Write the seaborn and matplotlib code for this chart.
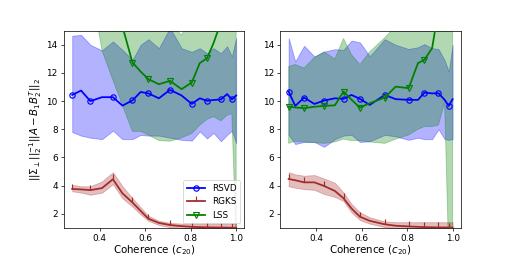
import numpy as np
import pandas as pd
import matplotlib
matplotlib.use("Agg")
import matplotlib.pyplot as plt
import seaborn as sns

# ---------------- data ----------------
coh_left = [0.279, 0.318, 0.359, 0.41, 0.458, 0.50, 0.544, 0.58, 0.614, 0.66,
            0.709, 0.76, 0.805, 0.84, 0.872, 0.90, 0.933, 0.96, 0.981, 1.0]
coh_right = [0.28, 0.309, 0.348, 0.393, 0.436, 0.483, 0.521, 0.556, 0.593, 0.636,
             0.702, 0.75, 0.807, 0.848, 0.876, 0.91, 0.938, 0.965, 0.983, 1.0]

# left panel
rsvd_L = [10.44, 10.75, 10.0, 10.28, 10.28, 9.68, 10.05, 10.65, 10.55, 10.2,
          10.8, 10.4, 9.8, 10.2, 10.02, 10.08, 10.12, 10.5, 10.12, 10.4]
rsvd_L_lo = [7.8, 7.55, 7.4, 7.3, 7.9, 7.3, 7.3, 7.6, 7.55, 7.55,
             7.4, 7.25, 7.2, 7.85, 7.35, 7.75, 7.15, 7.6, 7.9, 7.0]
rsvd_L_hi = [14.64, 14.71, 14.0, 13.6, 14.24, 13.64, 12.93, 14.0, 14.4, 13.76,
             15.2, 13.76, 13.5, 13.76, 13.4, 13.76, 13.4, 13.9, 13.17, 14.48]
rgks_L = [3.76, 3.73, 3.68, 3.82, 4.45, 3.45, 2.8, 2.2, 1.65, 1.35,
          1.2, 1.12, 1.07, 1.05, 1.04, 1.03, 1.02, 1.02, 1.01, 1.01]
rgks_L_lo = [3.6, 3.5, 3.35, 3.5, 4.1, 3.1, 2.5, 1.95, 1.5, 1.2,
             1.05, 0.98, 0.95, 0.95, 0.95, 0.95, 0.95, 0.95, 0.95, 0.95]
rgks_L_hi = [4.05, 3.95, 3.95, 4.3, 4.95, 3.95, 3.1, 2.45, 1.85, 1.5,
             1.35, 1.3, 1.3, 1.3, 1.3, 1.3, 1.3, 1.3, 1.3, 1.3]
lss_L = [30.0, 28.0, 26.0, 22.0, 18.0, 15.3, 12.74, 12.1, 11.56, 11.2,
         11.44, 10.85, 11.32, 12.7, 13.05, 14.1, 15.6, 17.0, 20.0, 25.0]
lss_L_lo = [20.0, 19.0, 18.3, 13.6, 11.5, 9.7, 7.85, 7.85, 7.6, 7.2,
            7.15, 7.4, 7.7, 8.3, 8.7, 8.9, 8.6, 9.0, 9.1, 0.0]
lss_L_hi = [30.0, 28.0, 26.0, 24.0, 22.0, 20.0, 18.0, 17.0, 16.5, 16.0,
            15.5, 14.7, 16.0, 17.0, 18.0, 19.0, 20.0, 21.0, 22.0, 24.0]

# right panel
rsvd_R = [10.68, 9.66, 10.25, 9.8, 10.04, 10.2, 10.16, 10.44, 10.16, 9.73,
          10.44, 10.14, 10.09, 10.09, 10.6, 10.55, 10.56, 10.09, 9.66, 10.14]
rsvd_R_lo = [7.6, 6.95, 7.1, 7.1, 6.75, 7.3, 7.55, 7.6, 7.1, 7.15,
             7.6, 7.5, 7.25, 7.4, 7.3, 7.3, 8.0, 7.3, 7.25, 7.3]
rsvd_R_hi = [14.48, 12.81, 13.93, 13.17, 13.52, 13.69, 13.64, 14.3, 14.17, 13.19,
             14.4, 14.0, 13.7, 13.83, 14.05, 13.76, 13.7, 12.9, 12.1, 14.0]
rgks_R = [4.47, 4.38, 4.23, 4.23, 3.97, 3.62, 3.1, 2.38, 1.79, 1.5,
          1.25, 1.15, 1.1, 1.07, 1.05, 1.04, 1.03, 1.03, 1.02, 1.02]
rgks_R_lo = [3.95, 3.85, 3.75, 3.7, 3.4, 3.2, 2.9, 2.1, 1.55, 1.3,
             1.05, 0.98, 0.95, 0.95, 0.95, 0.95, 0.95, 0.95, 0.95, 0.95]
rgks_R_hi = [4.95, 4.8, 4.7, 4.75, 4.5, 4.2, 3.5, 2.7, 2.1, 1.75,
             1.45, 1.4, 1.4, 1.4, 1.4, 1.4, 1.4, 1.4, 1.4, 1.4]
lss_R = [9.61, 9.55, 9.5, 9.6, 9.66, 9.7, 10.68, 10.1, 9.54, 9.85,
         10.25, 11.03, 10.92, 12.7, 12.93, 13.76, 16.5, 18.0, 20.0, 22.0]
lss_R_lo = [7.0, 7.15, 7.1, 7.05, 7.0, 7.1, 7.3, 7.2, 7.2, 7.1,
            7.0, 7.3, 7.6, 8.0, 8.2, 8.2, 8.3, 9.9, -1.0, -1.0]
lss_R_hi = [12.46, 12.6, 12.35, 13.1, 13.5, 13.0, 14.45, 13.3, 12.6, 13.5,
            14.5, 15.3, 16.0, 17.0, 18.0, 19.0, 20.0, 21.0, 22.0, 24.0]

methods = ["RSVD", "RGKS", "LSS"]
colors = {"RSVD": "blue", "RGKS": "brown", "LSS": "green"}
markers = {"RSVD": "o", "RGKS": 2, "LSS": "v"}

panels = [
    (coh_left, {"RSVD": (rsvd_L, rsvd_L_lo, rsvd_L_hi),
                "RGKS": (rgks_L, rgks_L_lo, rgks_L_hi),
                "LSS": (lss_L, lss_L_lo, lss_L_hi)}),
    (coh_right, {"RSVD": (rsvd_R, rsvd_R_lo, rsvd_R_hi),
                 "RGKS": (rgks_R, rgks_R_lo, rgks_R_hi),
                 "LSS": (lss_R, lss_R_lo, lss_R_hi)}),
]

plt.rcParams["font.family"] = ["DejaVu Sans"]
plt.rcParams["mathtext.fontset"] = "dejavusans"

fig, axes = plt.subplots(1, 2, figsize=(8, 4), dpi=64)

for i, (ax, (xs, series)) in enumerate(zip(axes, panels)):
    for m in methods:
        mean, lo, hi = series[m]
        df = pd.DataFrame({"c": xs, "v": mean})
        sns.lineplot(data=df, x="c", y="v", ax=ax, color=colors[m],
                     marker=markers[m], markevery=2, markersize=6,
                     markerfacecolor="none", markeredgecolor=colors[m],
                     markeredgewidth=1.3, linewidth=2, label=m, zorder=3)
        ax.fill_between(xs, lo, hi, color=colors[m], alpha=0.3, zorder=2)
    ax.set_ylim(1, 15)
    ax.set_yticks([2, 4, 6, 8, 10, 12, 14])
    ax.set_xticks([0.4, 0.6, 0.8, 1.0])
    ax.set_xlabel(r"Coherence ($c_{20}$)", fontsize=11.5, labelpad=0.5)
    ax.set_ylabel("")
    ax.tick_params(labelsize=10)
    if i == 0:
        ax.set_ylabel(r"$||\Sigma_\perp||_2^{-1}||A-B_1B_2^T||_2$", fontsize=11.5,
                      labelpad=3)
        ax.legend(loc="lower right", fontsize=10)
    else:
        leg = ax.get_legend()
        if leg is not None:
            leg.remove()

fig.savefig("out.png", dpi=64)
